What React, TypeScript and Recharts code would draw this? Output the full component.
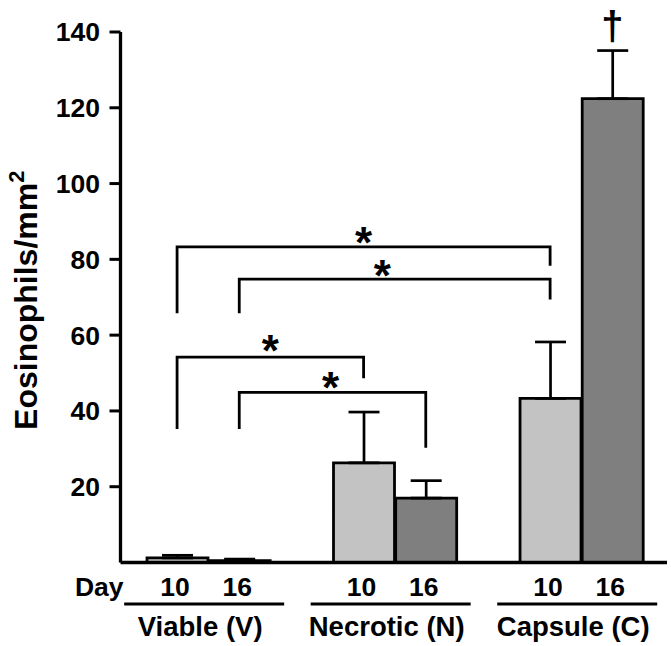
import React from 'react';
import { ComposedChart, Bar, Cell, XAxis, YAxis, ErrorBar, Line, ReferenceDot } from 'recharts';

const groups = ['Viable (V)', 'Necrotic (N)', 'Capsule (C)'];
const days = ['10', '16'];
const day10Mean = [1.2, 26.3, 43.3];
const day16Mean = [0.5, 17.0, 122.4];
const day10Sem = [0.7, 13.4, 14.9];
const day16Sem = [0.4, 4.6, 12.7];
const yTicks = [20, 40, 60, 80, 100, 120, 140];
const dayColors = ['#c3c3c3', '#7f7f7f'];

// significance brackets, between bar slots, in data units
const bracketFrom = [0, 1, 0, 1];
const bracketTo = [6, 6, 3, 4];
const bracketTop = [83.3, 74.8, 54.2, 44.9];
const bracketLeftEnd = [65.8, 65.8, 35.2, 35.2];
const bracketRightEnd = [78.3, 69.4, 48.6, 30.3];
const starSlot = [3.0, 3.3, 1.5, 2.47];
const starY = [87.0, 78.3, 58.4, 48.6];
const daggerSlot = 7;
const daggerY = 142;

const FONT = "'Liberation Sans', Arial, Helvetica, sans-serif";

const rows = groups.flatMap((g, gi) =>
  days.map((d, di) => ({
    slot: gi * 3 + di,
    group: g,
    day: d,
    di,
    mean: di === 0 ? day10Mean[gi] : day16Mean[gi],
    err: [0, di === 0 ? day10Sem[gi] : day16Sem[gi]],
  }))
);
const slots = rows.map((r) => r.slot);
const groupCenters = groups.map((_, gi) => gi * 3 + 0.5);

const bracketLines = bracketFrom.map((f, i) => [
  { slot: f, y: bracketLeftEnd[i] },
  { slot: f, y: bracketTop[i] },
  { slot: bracketTo[i], y: bracketTop[i] },
  { slot: bracketTo[i], y: bracketRightEnd[i] },
]);

const DayTick = (props: any) => {
  const { x, y, payload } = props;
  const r = rows.find((row) => row.slot === payload.value);
  return (
    <text x={x - 2} y={y + 33.5} textAnchor="middle" fontSize={26.5} fontWeight="bold" fontFamily={FONT} fill="#000">
      {r ? r.day : ''}
    </text>
  );
};

const GroupTick = (props: any) => {
  const { x, y, payload } = props;
  const gi = Math.round((payload.value - 0.5) / 3);
  return (
    <g>
      <line x1={x - 84} x2={x + 76} y1={y + 1.5} y2={y + 1.5} stroke="#000" strokeWidth={3} />
      <text x={x - 8} y={y + 33} textAnchor="middle" fontSize={27.5} fontWeight="bold" fontFamily={FONT} fill="#000">
        {groups[gi]}
      </text>
    </g>
  );
};

const DayLabel = (props: any) => {
  const vb = props.viewBox || {};
  return (
    <text x={vb.x + 3} y={vb.y + 33.5} textAnchor="end" fontSize={26.5} fontWeight="bold" fontFamily={FONT} fill="#000">
      Day
    </text>
  );
};

const YLabel = (props: any) => {
  const vb = props.viewBox || {};
  const cx = 37;
  const cy = vb.y + vb.height / 2 + 3;
  return (
    <text
      x={cx}
      y={cy}
      transform={`rotate(-90, ${cx}, ${cy})`}
      textAnchor="middle"
      fontSize={32}
      fontWeight="bold"
      fontFamily={FONT}
      fill="#000"
    >
      Eosinophils/mm
      <tspan fontSize={22} dy={-13}>2</tspan>
    </text>
  );
};

const Star = (props: any) => (
  <text x={props.cx} y={props.cy + 25} textAnchor="middle" fontSize={44} fontWeight="bold" fontFamily={FONT} fill="#000">
    *
  </text>
);

const Dagger = (props: any) => (
  <text x={props.cx} y={props.cy + 16} textAnchor="middle" fontSize={40} fontWeight="bold" fontFamily={FONT} fill="#000">
    †
  </text>
);

export default function App() {
  return (
    <div style={{ position: 'absolute', left: 0, top: 0 }}>
      <ComposedChart
        width={671}
        height={646}
        data={rows}
        margin={{ top: 32, right: 4, bottom: 0, left: 0 }}
      >
        <XAxis
          xAxisId="day"
          type="number"
          dataKey="slot"
          domain={[-0.91, 7.88]}
          allowDataOverflow
          ticks={slots}
          interval={0}
          height={40}
          tickSize={0}
          tickMargin={0}
          tickLine={false}
          axisLine={{ stroke: '#000', strokeWidth: 3.3 }}
          tick={<DayTick />}
          label={<DayLabel />}
        />
        <XAxis
          xAxisId="group"
          type="number"
          dataKey="slot"
          domain={[-0.91, 7.88]}
          allowDataOverflow
          ticks={groupCenters}
          interval={0}
          height={43.5}
          tickSize={0}
          tickMargin={0}
          tickLine={false}
          axisLine={false}
          tick={<GroupTick />}
        />
        <YAxis
          type="number"
          domain={[0, 140]}
          allowDataOverflow
          ticks={yTicks}
          interval={0}
          width={120.5}
          tickSize={11}
          tickMargin={9.5}
          tickLine={{ stroke: '#000', strokeWidth: 3 }}
          axisLine={{ stroke: '#000', strokeWidth: 3.3 }}
          tick={{ fontSize: 26.5, fontWeight: 'bold', fill: '#000', fontFamily: FONT }}
          label={<YLabel />}
        />
        <Bar xAxisId="day" dataKey="mean" barSize={61} stroke="#000" strokeWidth={2.8} isAnimationActive={false}>
          {rows.map((r) => (
            <Cell key={r.slot} fill={dayColors[r.di]} />
          ))}
          <ErrorBar dataKey="err" direction="y" width={15.5} stroke="#000" strokeWidth={2.7} isAnimationActive={false} />
        </Bar>
        {bracketLines.map((d, i) => (
          <Line
            key={'b' + i}
            xAxisId="day"
            data={d}
            dataKey="y"
            type="linear"
            stroke="#000"
            strokeWidth={2.8}
            dot={false}
            activeDot={false}
            legendType="none"
            isAnimationActive={false}
          />
        ))}
        {starSlot.map((s, i) => (
          <ReferenceDot key={'s' + i} xAxisId="day" x={s} y={starY[i]} r={0} ifOverflow="visible" shape={<Star />} />
        ))}
        <ReferenceDot xAxisId="day" x={daggerSlot} y={daggerY} r={0} ifOverflow="visible" shape={<Dagger />} />
      </ComposedChart>
    </div>
  );
}
